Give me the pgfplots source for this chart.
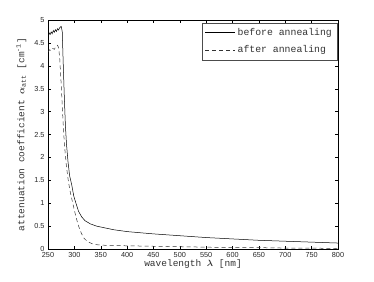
\documentclass[border=0pt]{standalone}
\usepackage{amsmath}
\usepackage{bm}
\usepackage{fontspec}
\setmainfont{Liberation Sans}
\setmonofont{Liberation Mono}
\usepackage{pgfplots}
\pgfplotsset{compat=1.18}
\begin{document}
\begin{tikzpicture}[x=1pt,y=1pt]
\useasboundingbox (-48pt,-32pt) rectangle (326pt,249pt);
\begin{axis}[
  scale only axis,
  width=290pt, height=229pt,
  xmin=250, xmax=800, ymin=0, ymax=5,
  xtick={250,300,...,800},
  ytick={0,0.5,...,5},
  tick align=inside,
  major tick length=3pt,
  tick style={black, line width=0.4pt},
  axis line style={line width=0.5pt},
  /pgf/number format/assume math mode=true,
  /pgf/number format/fixed,
  ticklabel style={font=\fontsize{7.3}{8}\selectfont, text=black!85},
  xlabel={\texttt{wavelength $\bm{\lambda}$ [nm]}},
  ylabel={\texttt{attenuation coefficient $\bm{\alpha}_{\texttt{att}}$ [cm$^{\texttt{-1}}$]}},
  label style={font=\fontsize{9.5}{10}\selectfont, text=black!80},
  xlabel style={yshift=5pt},
  ylabel style={yshift=1pt},
  legend style={at={(1,1)}, anchor=north east, xshift=-0.5pt, yshift=-2.5pt,
    font=\ttfamily\fontsize{9.8}{10}\selectfont, draw=black!70, line width=0.4pt,
    row sep=5pt, inner sep=3.5pt, text=black!80},
  legend cell align=left,
  legend image post style={line width=0.5pt},
  legend image code/.code={\draw[#1] (0pt,0pt) -- (30pt,0pt);},
]
\addplot[black, line width=0.5pt] coordinates {
(250,4.65) (252,4.72) (254,4.68) (256,4.74) (258,4.70) (260,4.77) (262,4.73) (264,4.79)
(266,4.75) (268,4.81) (270,4.78) (272,4.83) (275,4.86) (277,4.75) (279,4.0) (281,3.3)
(283,2.7) (285,2.3) (288,1.9) (291,1.6) (295,1.4) (299,1.15) (303,1.0) (308,0.82)
(314,0.7) (320,0.62) (330,0.55) (342,0.5) (350,0.48) (375,0.42) (400,0.38) (450,0.33)
(500,0.29) (550,0.25) (600,0.22) (650,0.19) (700,0.17) (750,0.15) (800,0.13)
};
\addlegendentry{before annealing}
\addplot[black!80, line width=0.5pt, dash pattern=on 4pt off 3pt] coordinates {
(250,4.30) (253,4.35) (256,4.33) (259,4.38) (262,4.36) (265,4.42) (268,4.45) (270,4.40)
(272,4.2) (275,3.6) (278,2.9) (281,2.3) (285,1.8) (289,1.45) (293,1.2) (298,0.95)
(303,0.7) (308,0.5) (313,0.35) (318,0.24) (325,0.16) (335,0.11) (345,0.09) (360,0.08)
(400,0.07) (450,0.06) (500,0.05) (550,0.04) (600,0.03) (650,0.03) (700,0.02) (750,0.02) (800,0.01)
};
\addlegendentry{after annealing}
\end{axis}
\end{tikzpicture}
\end{document}
